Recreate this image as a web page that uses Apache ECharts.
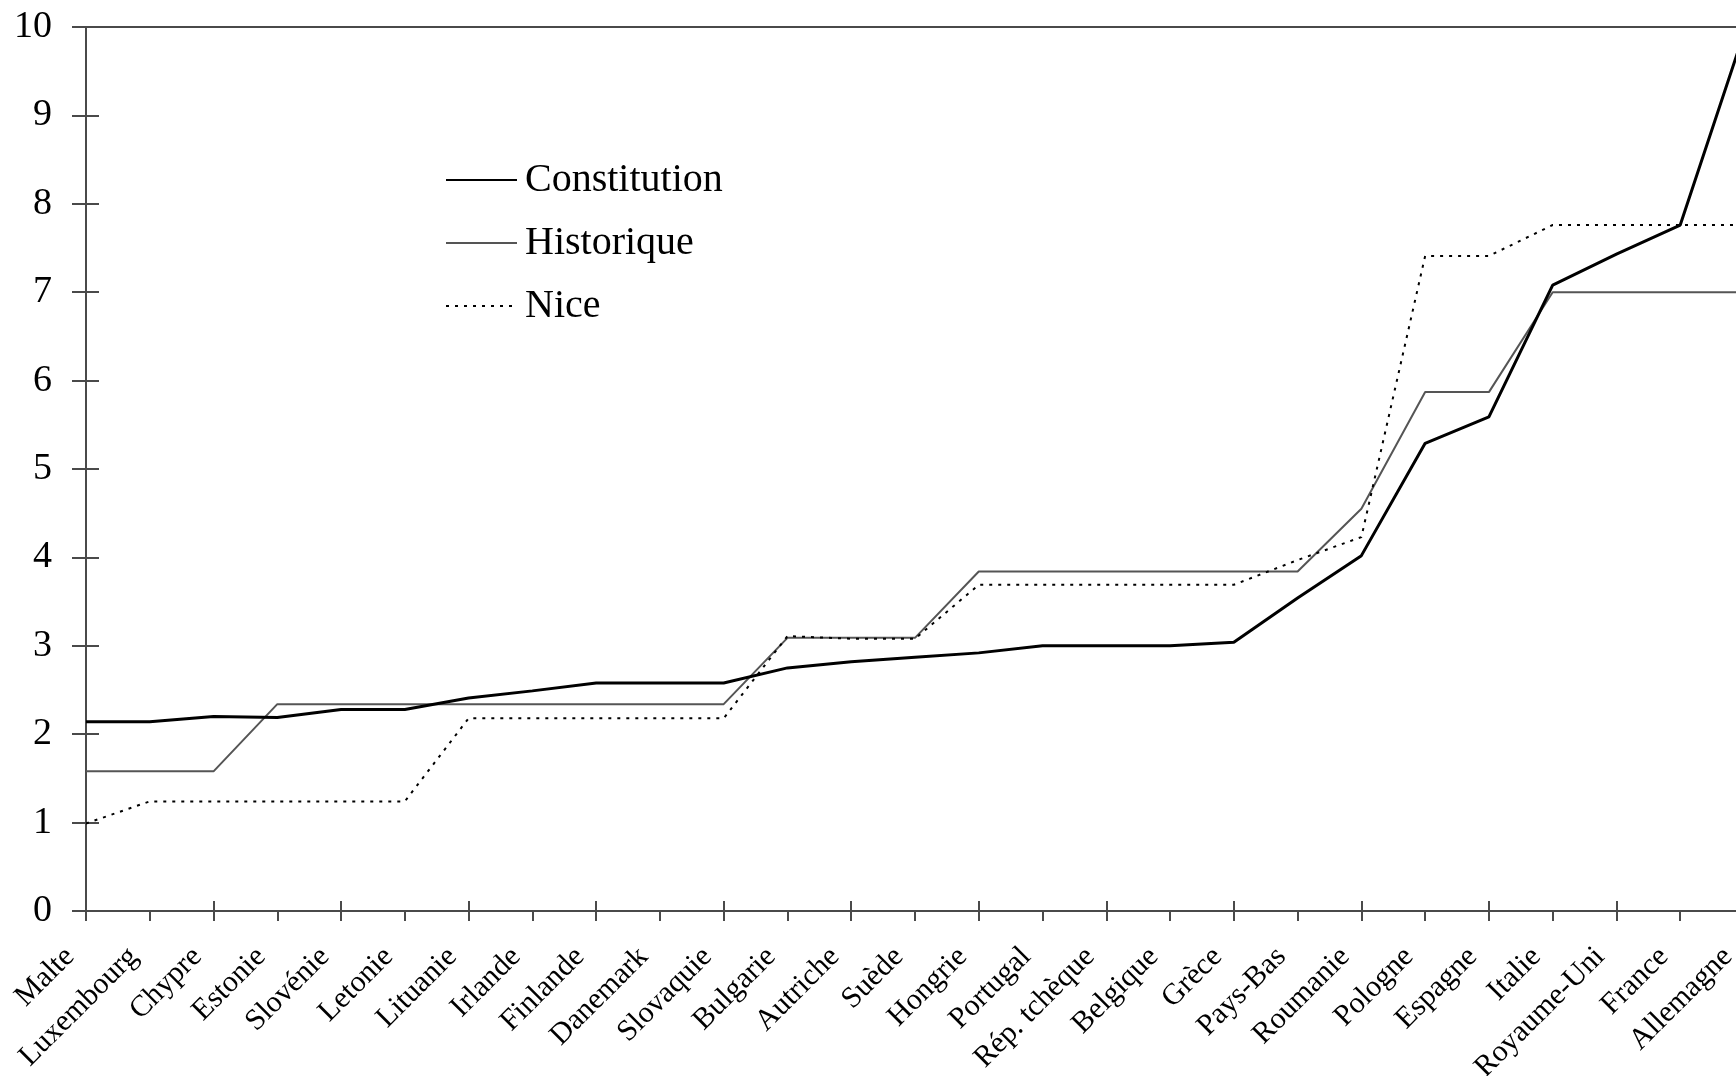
<!DOCTYPE html>
<html>
<head>
<meta charset="utf-8">
<script src="https://cdn.jsdelivr.net/npm/echarts@6/dist/echarts.min.js"></script>
<style>
  html, body { margin: 0; padding: 0; background: #fff; }
  #chart { width: 1736px; height: 1076px; }
</style>
</head>
<body>
<div id="chart"></div>
<script>
const categories = ['Malte', 'Luxembourg', 'Chypre', 'Estonie', 'Slovénie', 'Letonie', 'Lituanie',
  'Irlande', 'Finlande', 'Danemark', 'Slovaquie', 'Bulgarie', 'Autriche', 'Suède', 'Hongrie',
  'Portugal', 'Rép. tchèque', 'Belgique', 'Grèce', 'Pays-Bas', 'Roumanie', 'Pologne', 'Espagne',
  'Italie', 'Royaume-Uni', 'France', 'Allemagne'];

const constitution = [2.14, 2.14, 2.20, 2.19, 2.28, 2.28, 2.41, 2.49, 2.58, 2.58, 2.58, 2.75, 2.82,
  2.87, 2.92, 3.00, 3.00, 3.00, 3.04, 3.54, 4.02, 5.29, 5.59, 7.08, 7.43, 7.76, 9.93];

const historique = [1.58, 1.58, 1.58, 2.34, 2.34, 2.34, 2.34, 2.34, 2.34, 2.34, 2.34, 3.09, 3.09,
  3.09, 3.84, 3.84, 3.84, 3.84, 3.84, 3.84, 4.55, 5.87, 5.87, 7.00, 7.00, 7.00, 7.00];

const nice = [0.99, 1.24, 1.24, 1.24, 1.24, 1.24, 2.18, 2.18, 2.18, 2.18, 2.18, 3.11, 3.08,
  3.08, 3.69, 3.69, 3.69, 3.69, 3.69, 3.97, 4.23, 7.41, 7.41, 7.76, 7.76, 7.76, 7.76];

const seriesNames = ['Constitution', 'Historique', 'Nice'];
const yMin = 0, yMax = 10, yStep = 1;

const FONT = '"Liberation Serif", "Times New Roman", serif';
const AXIS_COLOR = '#4a4a4a';

const chart = echarts.init(document.getElementById('chart'));
chart.setOption({
  animation: false,
  backgroundColor: '#fff',
  grid: {
    left: 86, top: 27, bottom: 165, right: -8,
    outerBoundsMode: 'none', containLabel: false,
    show: true, borderColor: AXIS_COLOR, borderWidth: 2, backgroundColor: 'transparent'
  },
  legend: {
    orient: 'vertical',
    left: 440, top: 155,
    itemWidth: 71, itemHeight: 14, itemGap: 23,
    data: seriesNames,
    itemStyle: { color: 'transparent', borderColor: 'transparent', borderWidth: 0 },
    textStyle: { fontFamily: FONT, fontSize: 40, color: '#000', lineHeight: 40, padding: [0, 0, 0, 3] }
  },
  xAxis: [{
    type: 'category', data: categories, boundaryGap: false, position: 'bottom',
    axisLine: { lineStyle: { color: AXIS_COLOR, width: 2 } },
    axisTick: { show: true, inside: false, length: 10, lineStyle: { color: AXIS_COLOR, width: 2 } },
    axisLabel: { interval: 0, rotate: 45, margin: 25, padding: [0, 23, 0, 0], fontFamily: FONT, fontSize: 30, color: '#000' },
    splitLine: { show: false }
  }, {
    type: 'category', data: categories, boundaryGap: false, position: 'bottom',
    axisLine: { show: false },
    axisTick: { show: true, inside: true, length: 10, lineStyle: { color: AXIS_COLOR, width: 2 } },
    axisLabel: { show: false },
    splitLine: { show: false }
  }],
  yAxis: [{
    type: 'value', min: yMin, max: yMax, interval: yStep, position: 'left',
    axisLine: { show: true, lineStyle: { color: AXIS_COLOR, width: 2 } },
    axisTick: { show: true, inside: false, length: 14, lineStyle: { color: AXIS_COLOR, width: 2 } },
    axisLabel: { margin: 34, fontFamily: FONT, fontSize: 38, color: '#000' },
    splitLine: { show: false }
  }, {
    type: 'value', min: yMin, max: yMax, interval: yStep, position: 'left',
    axisLine: { show: false },
    axisTick: { show: true, inside: true, length: 13, lineStyle: { color: AXIS_COLOR, width: 2 } },
    axisLabel: { show: false },
    splitLine: { show: false }
  }],
  series: [{
    name: seriesNames[0], type: 'line', data: constitution, symbol: 'none',
    lineStyle: { color: '#000', width: 3 }, itemStyle: { color: '#000' }, z: 4
  }, {
    name: seriesNames[1], type: 'line', data: historique, symbol: 'none',
    lineStyle: { color: '#555', width: 2 }, itemStyle: { color: '#555' }, z: 3
  }, {
    name: seriesNames[2], type: 'line', data: nice, symbol: 'none',
    lineStyle: { color: '#000', width: 2, type: [3, 6] }, itemStyle: { color: '#000' }, z: 5
  }]
});
</script>
</body>
</html>
